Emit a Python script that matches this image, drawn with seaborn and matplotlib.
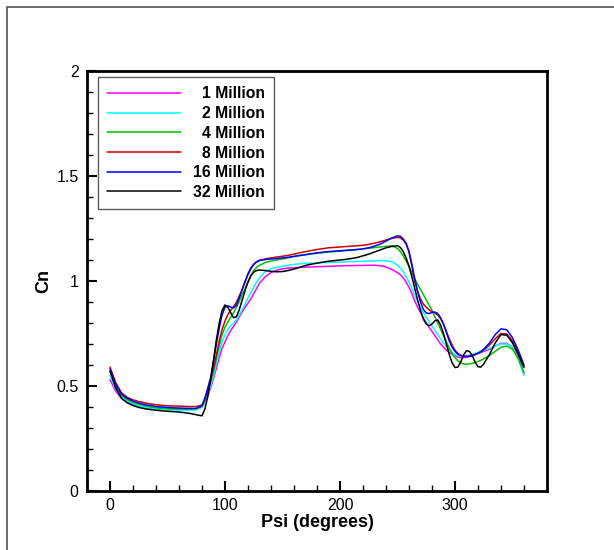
import numpy as np
import pandas as pd
import matplotlib
matplotlib.use("Agg")
import matplotlib.pyplot as plt
from matplotlib.patches import Rectangle
from matplotlib.ticker import MultipleLocator, FuncFormatter
import seaborn as sns

# Azimuth positions (degrees)
psi = [0, 5, 10, 15, 20, 25, 30, 35, 40, 45, 50, 55, 60, 65, 70, 75,
       80, 82.5, 85, 87.5, 90, 92.5, 95, 97.5, 100, 102.5, 105, 107.5, 110,
       112.5, 115, 117.5, 120, 122.5, 125, 127.5, 130,
       135, 140, 145, 150, 155, 160, 165, 170, 175, 180, 185, 190, 195, 200,
       205, 210, 215, 220, 225, 230, 235, 240, 245,
       250, 252.5, 255, 257.5, 260, 262.5, 265, 267.5, 270, 272.5, 275, 277.5,
       280, 282.5, 285, 287.5, 290, 292.5, 295, 297.5, 300, 302.5, 305, 307.5,
       310, 312.5, 315, 317.5, 320, 322.5, 325,
       330, 335, 340, 345, 350, 355, 360]

cn_1m = [0.53, 0.475, 0.44, 0.422, 0.412, 0.405, 0.40, 0.397, 0.395, 0.393, 0.392, 0.391, 0.390, 0.390, 0.390, 0.392,
         0.40, 0.42, 0.45, 0.49, 0.535, 0.585, 0.635, 0.68, 0.71, 0.74, 0.765, 0.785, 0.805, 0.83, 0.855, 0.875, 0.895, 0.915, 0.94, 0.965, 0.99,
         1.02, 1.04, 1.052, 1.058, 1.061, 1.063, 1.065, 1.066, 1.067, 1.068, 1.069, 1.07, 1.071, 1.072, 1.073, 1.073, 1.074, 1.074, 1.075, 1.075, 1.073, 1.067, 1.055,
         1.04, 1.03, 1.015, 0.995, 0.97, 0.94, 0.905, 0.875, 0.85, 0.825, 0.80, 0.78, 0.76, 0.74, 0.72, 0.70, 0.685, 0.67, 0.66, 0.65, 0.643, 0.638, 0.635, 0.635, 0.637, 0.64, 0.645, 0.65, 0.655, 0.66, 0.665,
         0.675, 0.69, 0.703, 0.703, 0.685, 0.64, 0.56]

cn_2m = [0.55, 0.485, 0.448, 0.428, 0.415, 0.406, 0.40, 0.395, 0.391, 0.389, 0.387, 0.386, 0.385, 0.385, 0.385, 0.387,
         0.40, 0.42, 0.455, 0.50, 0.55, 0.605, 0.66, 0.71, 0.745, 0.77, 0.788, 0.80, 0.815, 0.84, 0.865, 0.89, 0.92, 0.945, 0.97, 0.995, 1.015,
         1.045, 1.058, 1.065, 1.07, 1.075, 1.079, 1.082, 1.084, 1.085, 1.086, 1.087, 1.088, 1.089, 1.09, 1.091, 1.092, 1.093, 1.094, 1.095, 1.096, 1.097, 1.097, 1.092,
         1.075, 1.06, 1.045, 1.02, 0.995, 0.965, 0.93, 0.90, 0.875, 0.85, 0.825, 0.805, 0.785, 0.765, 0.745, 0.725, 0.705, 0.69, 0.675, 0.66, 0.65, 0.645, 0.642, 0.642, 0.643, 0.646, 0.65, 0.655, 0.66, 0.665, 0.67,
         0.68, 0.69, 0.70, 0.70, 0.685, 0.63, 0.55]

cn_4m = [0.57, 0.50, 0.456, 0.435, 0.422, 0.413, 0.406, 0.401, 0.397, 0.394, 0.392, 0.391, 0.390, 0.390, 0.390, 0.392,
         0.405, 0.43, 0.47, 0.52, 0.57, 0.63, 0.69, 0.745, 0.78, 0.805, 0.828, 0.85, 0.875, 0.905, 0.935, 0.965, 0.995, 1.025, 1.05, 1.065, 1.075,
         1.088, 1.095, 1.10, 1.105, 1.11, 1.117, 1.122, 1.126, 1.129, 1.132, 1.135, 1.138, 1.14, 1.142, 1.145, 1.147, 1.15, 1.153, 1.156, 1.159, 1.162, 1.165, 1.167,
         1.155, 1.14, 1.12, 1.095, 1.07, 1.04, 1.01, 0.985, 0.96, 0.935, 0.91, 0.885, 0.86, 0.83, 0.80, 0.77, 0.74, 0.71, 0.68, 0.655, 0.635, 0.62, 0.61, 0.605, 0.604, 0.605, 0.608, 0.612, 0.617, 0.622, 0.63,
         0.645, 0.665, 0.685, 0.69, 0.675, 0.63, 0.565]

cn_8m = [0.59, 0.515, 0.468, 0.446, 0.434, 0.426, 0.42, 0.415, 0.411, 0.408, 0.406, 0.405, 0.404, 0.403, 0.402, 0.402,
         0.41, 0.44, 0.48, 0.53, 0.585, 0.65, 0.715, 0.77, 0.81, 0.84, 0.86, 0.878, 0.90, 0.93, 0.96, 0.995, 1.03, 1.058, 1.078, 1.09, 1.098,
         1.105, 1.11, 1.114, 1.118, 1.122, 1.128, 1.134, 1.14, 1.145, 1.15, 1.154, 1.158, 1.16, 1.162, 1.164, 1.166, 1.168, 1.17, 1.174, 1.18, 1.187, 1.195, 1.203,
         1.208, 1.205, 1.195, 1.175, 1.14, 1.07, 1.00, 0.95, 0.915, 0.89, 0.875, 0.862, 0.855, 0.848, 0.838, 0.82, 0.795, 0.76, 0.725, 0.695, 0.67, 0.655, 0.646, 0.642, 0.641, 0.643, 0.646, 0.65, 0.656, 0.663, 0.672,
         0.695, 0.725, 0.75, 0.748, 0.715, 0.66, 0.59]

cn_16m = [0.58, 0.508, 0.462, 0.441, 0.428, 0.419, 0.412, 0.407, 0.403, 0.400, 0.398, 0.396, 0.395, 0.394, 0.393, 0.393,
          0.405, 0.44, 0.49, 0.54, 0.62, 0.70, 0.775, 0.84, 0.875, 0.882, 0.876, 0.872, 0.885, 0.92, 0.96, 1.0, 1.035, 1.062, 1.08, 1.092, 1.098,
          1.102, 1.105, 1.107, 1.11, 1.113, 1.117, 1.121, 1.125, 1.13, 1.134, 1.137, 1.14, 1.142, 1.144, 1.146, 1.148, 1.15, 1.153, 1.158, 1.166, 1.176, 1.19, 1.205,
          1.215, 1.213, 1.20, 1.18, 1.14, 1.08, 1.01, 0.95, 0.90, 0.865, 0.848, 0.845, 0.85, 0.852, 0.845, 0.825, 0.795, 0.755, 0.715, 0.685, 0.665, 0.652, 0.645, 0.641, 0.64, 0.642, 0.645, 0.65, 0.656, 0.664, 0.675,
          0.705, 0.745, 0.772, 0.768, 0.73, 0.67, 0.60]

cn_32m = [0.57, 0.49, 0.442, 0.42, 0.407, 0.398, 0.392, 0.388, 0.385, 0.382, 0.380, 0.378, 0.376, 0.373, 0.369, 0.363,
          0.358, 0.39, 0.45, 0.53, 0.62, 0.72, 0.80, 0.86, 0.886, 0.875, 0.848, 0.825, 0.83, 0.865, 0.91, 0.955, 0.995, 1.025, 1.042, 1.05, 1.052,
          1.05, 1.046, 1.044, 1.045, 1.05, 1.057, 1.065, 1.074, 1.08, 1.085, 1.09, 1.094, 1.097, 1.10, 1.103, 1.107, 1.112, 1.12, 1.128, 1.138, 1.148, 1.158, 1.165,
          1.168, 1.16, 1.14, 1.11, 1.07, 1.02, 0.965, 0.91, 0.86, 0.818, 0.795, 0.787, 0.795, 0.81, 0.815, 0.79, 0.75, 0.70, 0.65, 0.61, 0.588, 0.59, 0.615, 0.648, 0.668, 0.665, 0.645, 0.613, 0.592, 0.59, 0.605,
          0.65, 0.705, 0.745, 0.742, 0.705, 0.65, 0.59]

grid_labels = ["1 Million", "2 Million", "4 Million", "8 Million", "16 Million", "32 Million"]
series = [cn_1m, cn_2m, cn_4m, cn_8m, cn_16m, cn_32m]
colors = ["#ff00ff", "#00ffff", "#00c000", "#cc0000", "#0000ff", "#000000"]

df = pd.concat(
    [pd.DataFrame({"Psi": psi, "Cn": vals, "Grid": lab}) for lab, vals in zip(grid_labels, series)],
    ignore_index=True,
)

sns.set_style("white")
plt.rcParams["font.family"] = ["Liberation Sans", "DejaVu Sans"]
plt.rcParams.update({"text.color": "black", "axes.labelcolor": "black",
                     "xtick.color": "black", "ytick.color": "black"})

fig = plt.figure(figsize=(6.14, 5.5), dpi=100)
ax = fig.add_axes([87 / 614, 1 - 491 / 550, 460 / 614, 420 / 550])

sns.lineplot(data=df, x="Psi", y="Cn", hue="Grid", hue_order=grid_labels,
             palette=colors, estimator=None, sort=True, linewidth=1.1, ax=ax)
for ln in ax.get_lines():
    ln.set_solid_joinstyle("round")

ax.set_xlim(-20, 380)
ax.set_ylim(0, 2)
ax.xaxis.set_major_locator(MultipleLocator(100))
ax.xaxis.set_minor_locator(MultipleLocator(20))
ax.yaxis.set_major_locator(MultipleLocator(0.5))
ax.yaxis.set_minor_locator(MultipleLocator(0.1))
ax.yaxis.set_major_formatter(FuncFormatter(lambda v, p: f"{v:g}"))

ax.tick_params(which="major", direction="in", length=7.5, width=1.5,
               labelsize=11.5, bottom=True, left=True, top=False, right=False)
ax.tick_params(which="minor", direction="in", length=4.2, width=1.0,
               bottom=True, left=True, top=False, right=False)
ax.tick_params(axis="y", pad=6)
ax.tick_params(axis="x", pad=5)

for side in ["left", "bottom", "top", "right"]:
    ax.spines[side].set_visible(True)
    ax.spines[side].set_linewidth(2.0)
    ax.spines[side].set_color("black")

ax.set_xlabel("Psi (degrees)", fontsize=13, fontweight="bold", labelpad=1)
ax.set_ylabel("Cn", fontsize=13, fontweight="bold", labelpad=3)

leg = ax.legend(loc="upper left", bbox_to_anchor=(11 / 460, 1 - 6 / 420),
                frameon=True, fancybox=False, edgecolor="#333333",
                handlelength=4.7, handletextpad=0.76, labelspacing=0.3,
                borderpad=0.6, borderaxespad=0,
                prop={"weight": "bold", "size": 11.3})
leg.get_frame().set_linewidth(1.0)
for line in leg.get_lines():
    line.set_linewidth(1.1)

# right-align the legend labels within the text column
fig.canvas.draw()
renderer = fig.canvas.get_renderer()
widths = [t.get_window_extent(renderer).width for t in leg.get_texts()]
maxw = max(widths)
for t, w in zip(leg.get_texts(), widths):
    t.set_color("black")
    t.set_position((maxw - w, 0))

# page frame around the plot
fig.patches.append(Rectangle((7 / 614, -0.5), 2.0, 1.5 - 7 / 550,
                             transform=fig.transFigure, fill=False,
                             edgecolor="#555555", linewidth=1.2))

fig.savefig("out.png", dpi=100)
